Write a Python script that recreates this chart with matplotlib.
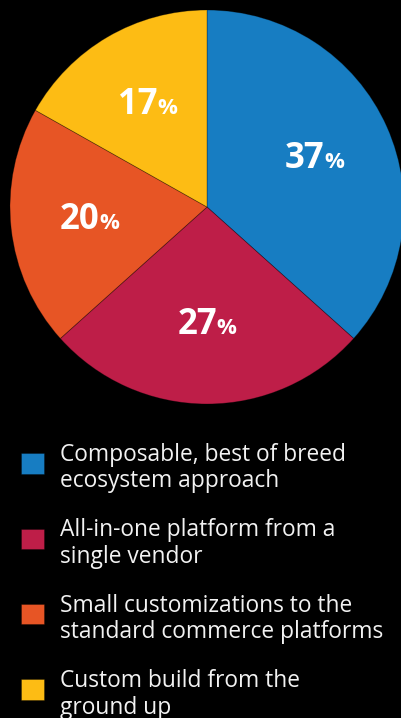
import numpy as np
import matplotlib
matplotlib.use("Agg")
import matplotlib.pyplot as plt
from matplotlib.offsetbox import TextArea, HPacker, AnnotationBbox
from matplotlib.legend_handler import HandlerPatch
from matplotlib.patches import Rectangle

categories = [
    "Composable, best of breed\necosystem approach",
    "All-in-one platform from a\nsingle vendor",
    "Small customizations to the\nstandard commerce platforms",
    "Custom build from the\nground up",
]
values = [37, 27, 20, 17]
colors = ["#177DC2", "#BE1E48", "#E75525", "#FDBC14"]

W, H = 402, 718
fig = plt.figure(figsize=(W / 100, H / 100), dpi=100, facecolor="black")
R = 197
cx, cy = 207, 207
ax = fig.add_axes([(cx - R) / W, (H - cy - R) / H, 2 * R / W, 2 * R / H])
ax.set_facecolor("black")

wedges, _ = ax.pie(values, colors=colors, startangle=90, counterclock=False,
                   wedgeprops=dict(edgecolor="#00000055", linewidth=0.6))
ax.set_xlim(-1, 1)
ax.set_ylim(-1, 1)
ax.set_aspect("equal")
ax.axis("off")

fam = "Open Sans"
for w, v in zip(wedges, values):
    mid = np.deg2rad((w.theta1 + w.theta2) / 2)
    d = 0.6
    x, y = d * np.cos(mid), d * np.sin(mid)
    t1 = TextArea(str(v), textprops=dict(color="white", fontsize=25, fontweight="bold", family=fam))
    t2 = TextArea("%", textprops=dict(color="white", fontsize=16, fontweight="bold", family=fam))
    box = HPacker(children=[t1, t2], align="baseline", pad=0, sep=0)
    ab = AnnotationBbox(box, (x, y), xycoords="data", frameon=False, box_alignment=(0.5, 0.5))
    ax.add_artist(ab)


def square(legend, orig_handle, xdescent, ydescent, width, height, fontsize):
    return Rectangle((-xdescent, -ydescent + 4.3), width, height, linewidth=0)


leg = fig.legend(wedges, categories, loc="upper left",
                 bbox_to_anchor=(21 / W, 1 - 443 / H),
                 frameon=False, handlelength=1.0, handleheight=1.0,
                 handletextpad=0.7, labelspacing=1.1, borderpad=0, borderaxespad=0,
                 prop=dict(family=fam, size=16.4),
                 handler_map={w: HandlerPatch(patch_func=square) for w in wedges})
for t in leg.get_texts():
    t.set_color("#F2F2F2")
    t.set_linespacing(1.13)

fig.savefig("out.png", dpi=100, facecolor="black")
